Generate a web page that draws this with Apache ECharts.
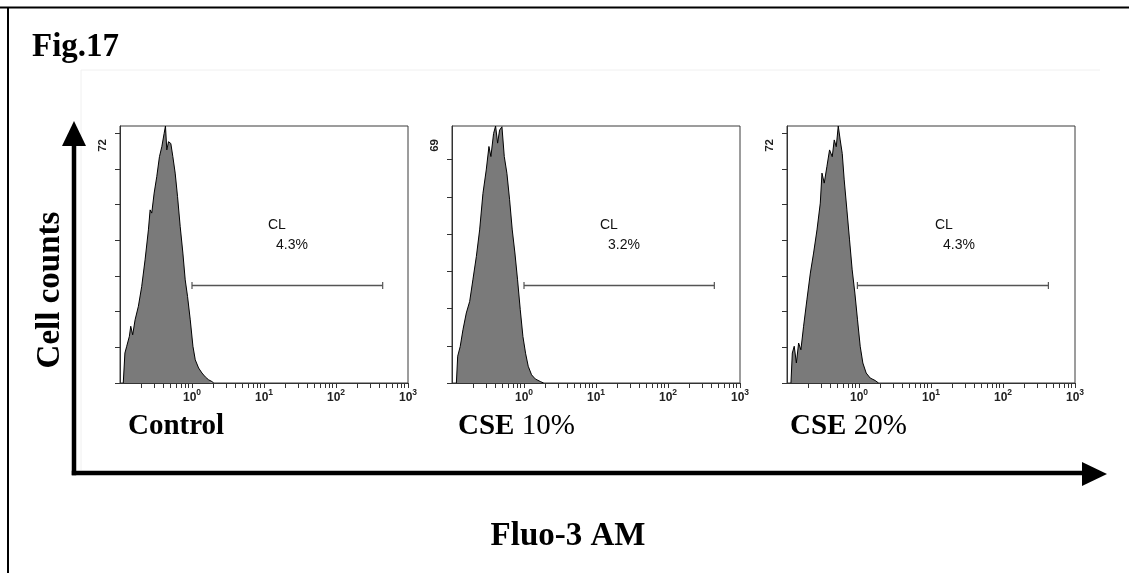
<!DOCTYPE html>
<html>
<head>
<meta charset="utf-8">
<title>Fig.17</title>
<script src="https://cdn.jsdelivr.net/npm/echarts@6/dist/echarts.min.js"></script>
<style>
  html, body { margin: 0; padding: 0; background: #fff; }
  #main { width: 1129px; height: 573px; }
</style>
</head>
<body>
<div id="main"></div>
<script>
// histogram outlines: [Fluo-3 AM intensity, cell counts]
const controlHist = [
  [0.111, 0], [0.117, 8.4], [0.124, 10.3], [0.135, 13.1], [0.141, 15.9], [0.150, 13.5],
  [0.162, 17.7], [0.180, 21.5], [0.200, 27.0], [0.223, 34.5], [0.248, 42.9], [0.262, 48.5],
  [0.276, 47.6], [0.298, 53.2], [0.324, 57.8], [0.353, 63.4], [0.381, 66.2], [0.410, 69.9],
  [0.428, 72], [0.447, 65.3], [0.472, 67.6], [0.508, 67.1], [0.542, 63.4], [0.584, 58.8],
  [0.630, 52.2], [0.686, 43.8], [0.747, 36.4], [0.805, 28.9], [0.868, 24.2], [0.946, 17.7],
  [1.03, 10.3], [1.11, 6.5], [1.235, 4.2], [1.375, 2.8], [1.53, 1.7], [1.70, 0.9],
  [1.895, 0.4], [2.0, 0]
];
const cse10Hist = [
  [0.115, 0], [0.120, 7.2], [0.130, 9.8], [0.142, 14.3], [0.158, 18.8], [0.176, 21.9],
  [0.195, 27.7], [0.218, 34.0], [0.242, 41.1], [0.269, 50.9], [0.299, 57.2], [0.326, 63.5],
  [0.347, 60.8], [0.378, 67.0], [0.403, 69], [0.430, 64.4], [0.458, 67.9], [0.494, 68.8],
  [0.532, 60.8], [0.579, 56.3], [0.631, 49.2], [0.687, 41.1], [0.748, 34.9], [0.814, 27.7],
  [0.887, 19.7], [0.966, 12.5], [1.051, 8.0], [1.145, 4.5], [1.274, 2.2], [1.432, 1.1],
  [1.68, 0.4], [1.87, 0]
];
const cse20Hist = [
  [0.1135, 0], [0.1185, 8.4], [0.126, 10.3], [0.135, 5.6], [0.145, 11.2], [0.156, 9.3],
  [0.170, 15.9], [0.189, 23.3], [0.211, 30.8], [0.234, 36.4], [0.261, 42.9], [0.290, 50.4],
  [0.306, 58.8], [0.329, 56.0], [0.358, 60.6], [0.390, 65.3], [0.425, 63.4], [0.453, 68.1],
  [0.483, 66.2], [0.515, 72], [0.548, 68.1], [0.585, 64.3], [0.623, 56.9], [0.679, 48.5],
  [0.739, 40.1], [0.804, 31.7], [0.876, 25.2], [0.954, 17.7], [1.039, 10.3], [1.131, 5.6],
  [1.258, 2.8], [1.43, 1.4], [1.678, 0.7], [1.866, 0]
];

const panelNames = ['Control', 'CSE 10%', 'CSE 20%'];
const yMaxCounts = [72, 69, 72];
const yTicks = [0, 10, 20, 30, 40, 50, 60, 70];
const clPercent = ['4.3%', '3.2%', '4.3%'];
const gateStart = [1.0, 1.0, 0.95];
const gateEnd = [445, 440, 427];
const gateLevel = [27.3, 26.2, 27.3];
const xMajorTicks = [1, 10, 100, 1000];
const xTicks = [0.2, 0.3, 0.4, 0.5, 0.6, 0.7, 0.8, 0.9, 1,
  2, 3, 4, 5, 6, 7, 8, 9, 10,
  20, 30, 40, 50, 60, 70, 80, 90, 100,
  200, 300, 400, 500, 600, 700, 800, 900, 1000];

const hists = [controlHist, cse10Hist, cse20Hist];
const gridLefts = [120, 452, 787];
const gridTop = 126, gridW = 288, gridH = 257;
const serif = '"Liberation Serif", "Times New Roman", serif';
const sans = '"Liberation Sans", Arial, sans-serif';

const chart = echarts.init(document.getElementById('main'));

const grids = [], xAxes = [], yAxes = [], series = [], graphics = [];

hists.forEach((hist, i) => {
  grids.push({
    left: gridLefts[i], top: gridTop, width: gridW, height: gridH,
    show: true, borderColor: '#3a3a3a', borderWidth: 1, backgroundColor: '#fff'
  });
  xAxes.push({
    type: 'log', gridIndex: i, logBase: 10, min: 0.1, max: 1000,
    axisLine: { onZero: false, lineStyle: { color: '#333', width: 1 } },
    axisTick: { show: true, length: 5, customValues: xTicks, lineStyle: { color: '#333' } },
    axisLabel: {
      customValues: xMajorTicks, margin: 5,
      fontFamily: sans, fontSize: 12, fontWeight: 'bold', color: '#222',
      formatter: v => '{b|10}{s|' + Math.round(Math.log10(v)) + '}',
      rich: {
        b: { fontFamily: sans, fontSize: 12, fontWeight: 'bold', color: '#222', verticalAlign: 'bottom', lineHeight: 16 },
        s: { fontFamily: sans, fontSize: 8.5, fontWeight: 'bold', color: '#222', verticalAlign: 'top', lineHeight: 16 }
      }
    },
    splitLine: { show: false }
  });
  yAxes.push({
    type: 'value', gridIndex: i, min: 0, max: yMaxCounts[i],
    axisLine: { show: true, lineStyle: { color: '#333', width: 1 } },
    axisTick: { show: true, length: 5, customValues: yTicks, lineStyle: { color: '#333' } },
    axisLabel: {
      customValues: [yMaxCounts[i]], rotate: 90, margin: 11,
      align: 'right', verticalAlign: 'bottom', padding: [0, 13, 0, 0],
      fontFamily: sans, fontSize: 11.5, fontWeight: 'bold', color: '#222'
    },
    splitLine: { show: false }
  });
  series.push({
    type: 'line', xAxisIndex: i, yAxisIndex: i, data: hist,
    showSymbol: false, symbol: 'none', silent: true,
    lineStyle: { color: '#000', width: 1 },
    areaStyle: { color: '#7a7a7a', opacity: 1 },
    z: 2
  });
  series.push({
    type: 'line', xAxisIndex: i, yAxisIndex: i,
    data: [[gateStart[i], gateLevel[i]], [gateEnd[i], gateLevel[i]]],
    symbol: 'rect', symbolSize: [1.2, 7], showSymbol: true, silent: true,
    itemStyle: { color: '#555' },
    lineStyle: { color: '#555', width: 1.5 },
    z: 3
  });
  graphics.push({
    type: 'text', left: gridLefts[i] + 148, top: 218,
    style: { text: 'CL', font: '14px ' + sans, fill: '#111' }
  });
  graphics.push({
    type: 'text', left: gridLefts[i] + 156, top: 238,
    style: { text: clPercent[i], font: '14px ' + sans, fill: '#111' }
  });
});

// panel captions
const captionLefts = [128, 458, 790];
panelNames.forEach((name, i) => {
  const parts = name.split(' ');
  graphics.push({
    type: 'text', left: captionLefts[i], top: 412,
    style: {
      text: parts.length > 1 ? '{b|' + parts[0] + ' }{r|' + parts[1] + '}' : '{b|' + name + '}',
      rich: {
        b: { fontFamily: serif, fontSize: 29, fontWeight: 'bold', fill: '#000' },
        r: { fontFamily: serif, fontSize: 29, fill: '#000' }
      }
    }
  });
});

// frame and big axes
graphics.push(
  { type: 'line', shape: { x1: 81, y1: 70, x2: 1100, y2: 70 }, style: { stroke: '#f0f0f0', lineWidth: 1 } },
  { type: 'line', shape: { x1: 81, y1: 70, x2: 81, y2: 470 }, style: { stroke: '#f0f0f0', lineWidth: 1 } },
  { type: 'line', shape: { x1: 0, y1: 7.5, x2: 1129, y2: 7.5 }, style: { stroke: '#000', lineWidth: 2 } },
  { type: 'line', shape: { x1: 8, y1: 7, x2: 8, y2: 573 }, style: { stroke: '#000', lineWidth: 2 } },
  { type: 'line', shape: { x1: 74, y1: 144, x2: 74, y2: 473 }, style: { stroke: '#000', lineWidth: 4.5, lineCap: 'square' } },
  { type: 'polygon', shape: { points: [[74, 121], [62, 146], [86, 146]] }, style: { fill: '#000' } },
  { type: 'line', shape: { x1: 74, y1: 473, x2: 1084, y2: 473 }, style: { stroke: '#000', lineWidth: 4.5, lineCap: 'square' } },
  { type: 'polygon', shape: { points: [[1107, 474], [1082, 462], [1082, 486]] }, style: { fill: '#000' } },
  {
    type: 'text', left: 32, top: 31,
    style: { text: 'Fig.17', font: 'bold 33px ' + serif, fill: '#000' }
  },
  {
    type: 'text', x: 50, y: 290, rotation: Math.PI / 2,
    style: { text: 'Cell counts', font: 'bold 33px ' + serif, fill: '#000', align: 'center', verticalAlign: 'middle' }
  },
  {
    type: 'text', x: 568, y: 536,
    style: { text: 'Fluo-3 AM', font: 'bold 33px ' + serif, fill: '#000', align: 'center', verticalAlign: 'middle' }
  }
);

chart.setOption({
  animation: false,
  backgroundColor: '#fff',
  grid: grids,
  xAxis: xAxes,
  yAxis: yAxes,
  series: series,
  graphic: graphics
});
</script>
</body>
</html>
